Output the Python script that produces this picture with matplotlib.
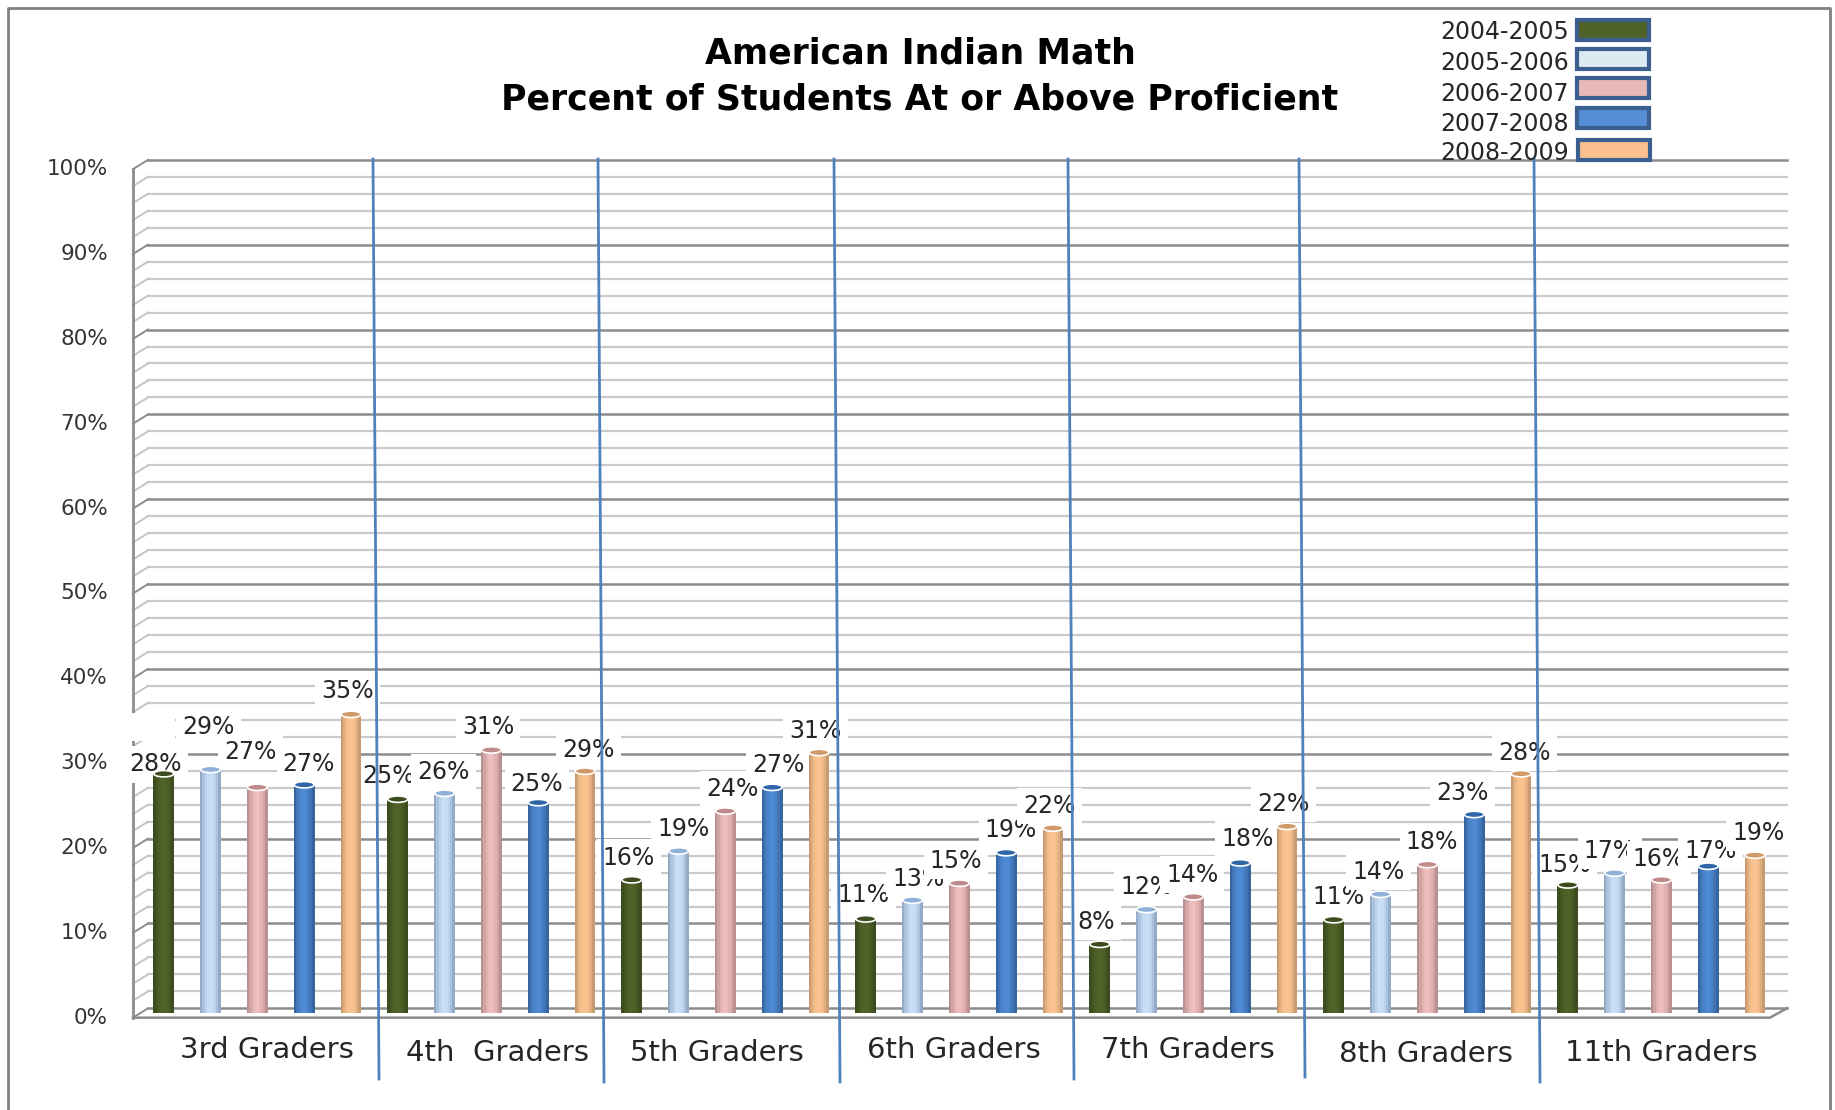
import matplotlib
matplotlib.use("Agg")
import matplotlib.pyplot as plt
from matplotlib.patches import Ellipse, Rectangle

plt.rcParams['font.family'] = 'DejaVu Sans'

grades = ['3rd Graders', '4th  Graders', '5th Graders', '6th Graders', '7th Graders', '8th Graders', '11th Graders']
years = ['2004-2005', '2005-2006', '2006-2007', '2007-2008', '2008-2009']

# bar heights, one list per school year
y0405 = [28.2, 25.2, 15.7, 11.1, 8.1, 11.0, 15.1]
y0506 = [28.7, 25.9, 19.1, 13.3, 12.2, 14.0, 16.5]
y0607 = [26.6, 31.0, 23.8, 15.3, 13.7, 17.5, 15.7]
y0708 = [26.9, 24.8, 26.6, 18.9, 17.7, 23.4, 17.3]
y0809 = [35.2, 28.5, 30.7, 21.8, 22.0, 28.2, 18.6]
series = [y0405, y0506, y0607, y0708, y0809]

# printed labels (they are rounded, not always the same as the bar height)
lab0405 = [28, 25, 16, 11, 8, 11, 15]
lab0506 = [29, 26, 19, 13, 12, 14, 17]
lab0607 = [27, 31, 24, 15, 14, 18, 16]
lab0708 = [27, 25, 27, 19, 18, 23, 17]
lab0809 = [35, 29, 31, 22, 22, 28, 19]
labels = [lab0405, lab0506, lab0607, lab0708, lab0809]

# label nudges per grade, per year: sideways and upwards from the bar top
nudge_x = [[-7, -2, -6, 4, -3], [-8, -1, -3, -1, 3], [-3, 4, 6, 5, -3], [-2, 5, -3, 4, -3],
           [-3, 0, -1, 6, -3], [4, -2, 4, -10, 3], [-3, -4, -2, 2, 3]]
nudge_y = [[8, 36, 30, 18, 20], [20, 18, 20, 16, 18], [19, 19, 19, 19, 18], [20, 18, 19, 19, 19],
           [19, 19, 19, 20, 19], [19, 19, 19, 18, 18], [17, 19, 18, 13, 19]]
grade_nudge = [8, 5, -7, -5, -5, -1, 0]
grade_y = [1050, 1053, 1053, 1050, 1050, 1054, 1053]

body = ['#4F6228', '#C9DFF8', '#EFBEBE', '#4F8AD5', '#FBC48F']
edge = ['#3C4C1E', '#94ABC8', '#B98F8F', '#36659F', '#C99B70']
cap = ['#3C4C1E', '#8FB0D8', '#C08A8A', '#2F66A8', '#D09A68']
legend_col = ['#4F6228', '#DCEBF2', '#E6B8B7', '#558ED5', '#FAC090']
legend_y = [30, 59, 88, 118, 150]
legend_text_y = [32, 63, 94, 124, 153]

# blue separators between grades, page pixels (top x, bottom x, bottom y)
sep_top = [373, 598, 834, 1068, 1299, 1534]
sep_bot = [379, 604, 840, 1074, 1305, 1540]
sep_end = [1079, 1082, 1082, 1079, 1077, 1082]

W, H = 1835, 1110
fig = plt.figure(figsize=(W / 100, H / 100), dpi=100, facecolor='white')

# page layer in pixels, for frame, title, legend and separators
page = fig.add_axes([0, 0, 1, 1], zorder=3)
page.set_xlim(0, W)
page.set_ylim(H, 0)
page.axis('off')
page.patch.set_alpha(0)

# chart layer: x is bar slots, y is percent on the plane half way in the 3d box
px0, px1 = 133, 1787
ytop, ybot = 164.5, 1013
ax = fig.add_axes([px0 / W, 1 - ybot / H, (px1 - px0) / W, (ybot - ytop) / H], zorder=1)
slot = 46.8
ax.set_xlim((px0 - 163.8) / slot, (px1 - 163.8) / slot)
ax.set_ylim(0, 100)
ax.axis('off')

xl, xr = ax.get_xlim()
dx = 15 / slot      # depth of the box
dy = 0.55
front_r = (1770 - 163.8) / slot

for v in range(0, 101, 2):
    major = v % 10 == 0
    c = '#8C8C8C' if major else '#CACACA'
    ax.plot([xl + dx, xr], [v + dy, v + dy], color=c, lw=1.8 if major else 1.6, zorder=1, clip_on=False)
    ax.plot([xl, xl + dx], [v - dy, v + dy], color=c if major else '#C4C4C4', lw=1.4, zorder=1, clip_on=False)

ax.plot([xl, xl], [-dy, 100 - dy], color='#8C8C8C', lw=2, zorder=1, clip_on=False)
ax.plot([xl, front_r, xr], [-dy, -dy, dy], color='#8C8C8C', lw=1.8, zorder=1, clip_on=False)

# gap in the wall that the first label box leaves
ax.add_patch(Rectangle((xl - 0.1, 32.0), 1.0, 3.4, facecolor='white', edgecolor='none', zorder=2, clip_on=False))

for v in range(0, 101, 10):
    ax.text(xl - 25 / slot, v - dy, f'{v}%', ha='right', va='center', fontsize=15.5, color='#333333', clip_on=False)

# bars as a row of thin strips so they look round
barw = 20 / slot
strips = 9
for s in range(5):
    for g in range(7):
        x = g * 5 + s
        h = series[s][g]
        ax.bar(x, h, width=barw, color=body[s], zorder=4.8)
        for k in range(strips):
            t = abs(k - (strips - 1) / 2) / ((strips - 1) / 2)
            a = t ** 2
            rgb0 = matplotlib.colors.to_rgb(body[s])
            rgb1 = matplotlib.colors.to_rgb(edge[s])
            col = [rgb0[i] * (1 - a) + rgb1[i] * a for i in range(3)]
            ax.bar(x - barw / 2 + (k + 0.5) * barw / strips, h, width=barw / strips * 1.3, color=col, zorder=5, lw=0)
        ax.add_patch(Ellipse((x, h), barw, 0.75, facecolor=cap[s], edgecolor='white', lw=1.2, zorder=5.5))
        ax.annotate(f'{labels[s][g]}%', (x, h), xytext=(nudge_x[g][s] * 1.17, nudge_y[g][s] * 1.17),
                    textcoords='offset pixels', ha='center', va='center', fontsize=17, color='#262626',
                    bbox=dict(facecolor='white', edgecolor='none', pad=4.5), zorder=4)

for g in range(7):
    xc = g * 5 + 2
    xp = ax.transData.transform((xc, 0))[0]
    page.text(xp + grade_nudge[g] * 1.17, grade_y[g], grades[g], ha='center', va='center', fontsize=21, color='#262626')

# frame, no line along the bottom
page.plot([8, 8, 1830, 1830], [H, 8, 8, H], color='#808080', lw=2, clip_on=False)

page.text(920, 53, 'American Indian Math', ha='center', va='center', fontsize=25, fontweight='bold', color='black')
page.text(920, 100, 'Percent of Students At or Above Proficient', ha='center', va='center', fontsize=25, fontweight='bold', color='black')

for i in range(5):
    page.text(1440, legend_text_y[i], years[i], ha='left', va='center', fontsize=17, color='#262626')
    x_box = 1577 if i < 4 else 1578
    page.add_patch(Rectangle((x_box, legend_y[i] - 10), 72, 20, facecolor=legend_col[i], edgecolor='#3B5F8F', lw=3))

for i in range(6):
    page.plot([sep_top[i], sep_bot[i]], [159, sep_end[i]], color='#4F81BD', lw=2)

fig.savefig('out.png', dpi=100)
